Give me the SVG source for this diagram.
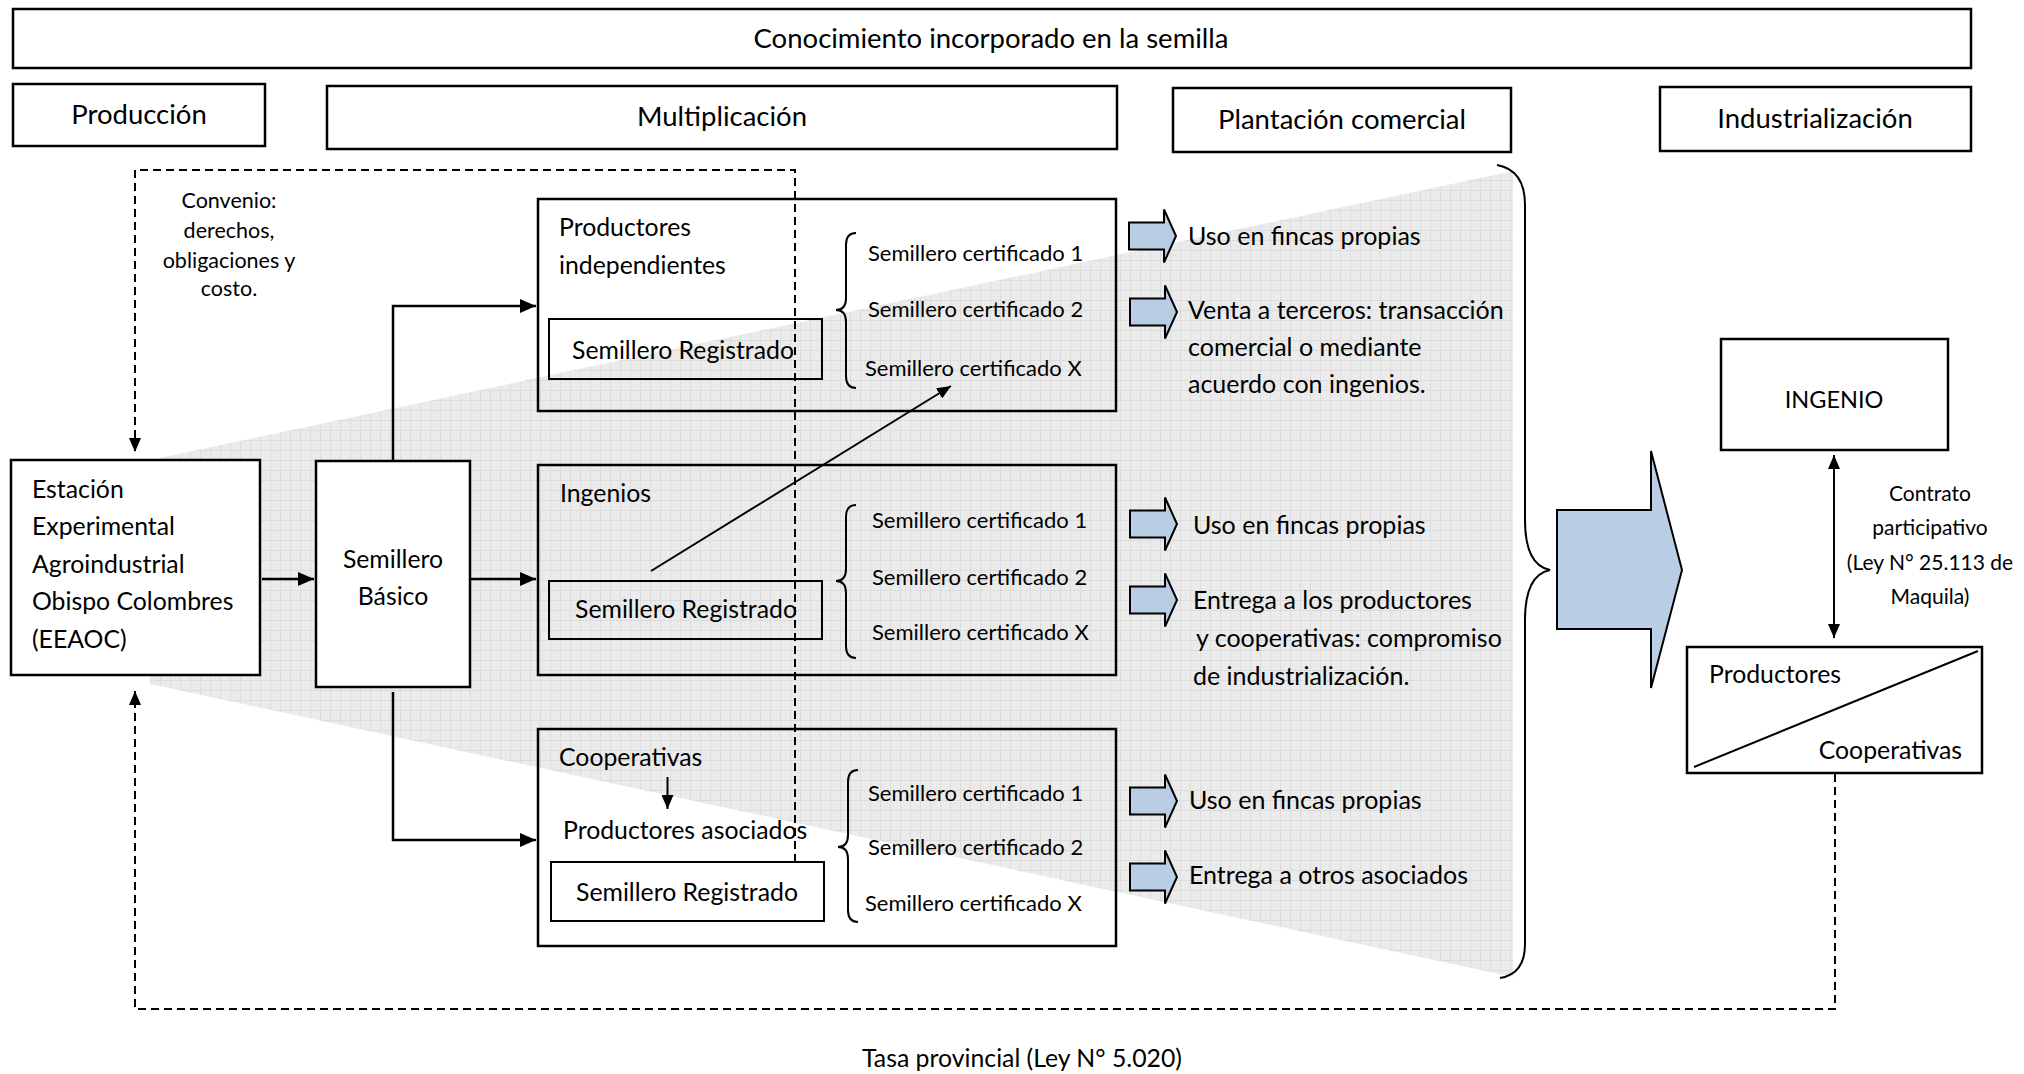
<svg xmlns="http://www.w3.org/2000/svg" width="2024" height="1074" viewBox="0 0 2024 1074">
  <style>
    text { font-family: Lato, "Open Sans", "Liberation Sans", sans-serif; fill: #000; }
    .hdr { font-size: 27.5px; text-anchor: middle; }
    .body { font-size: 24.8px; }
    .use { font-size: 25px; }
    .caps { font-size: 23.5px; }
    .mid { text-anchor: middle; }
    .end { text-anchor: end; }
    .cert { font-size: 22px; }
    .note { font-size: 21.5px; text-anchor: middle; }
    .law { font-size: 21px; text-anchor: middle; }
    .box { fill: none; stroke: #000; stroke-width: 2.5; }
    .wbox { fill: #fff; stroke: #000; stroke-width: 2.5; }
    .ibox { fill: none; stroke: #000; stroke-width: 2; }
    .line { fill: none; stroke: #000; stroke-width: 2.5; }
    .thin { fill: none; stroke: #000; stroke-width: 2; }
    .dash { fill: none; stroke: #000; stroke-width: 2; stroke-dasharray: 8 5; }
    .brace { fill: none; stroke: #000; stroke-width: 2; }
    .blue { fill: #b9cde5; stroke: #000; stroke-width: 2; stroke-linejoin: miter; }
  </style>
  <defs>
    <pattern id="grid" width="10" height="10" patternUnits="userSpaceOnUse">
      <rect width="10" height="10" fill="#ebebeb"/>
      <path d="M0 0.5H10M0.5 0V10" stroke="#dcdcdc" stroke-width="1"/>
    </pattern>
    <marker id="arr" markerUnits="userSpaceOnUse" markerWidth="16" markerHeight="14" refX="16" refY="7" orient="auto">
      <path d="M0 0L16 7L0 14z" fill="#000"/>
    </marker>
    <marker id="arrS" markerUnits="userSpaceOnUse" markerWidth="14" markerHeight="12" refX="14" refY="6" orient="auto-start-reverse">
      <path d="M0 0L14 6L0 12z" fill="#000"/>
    </marker>
    <path id="blockArrow" d="M0 -13.5H35V-26.5L47 0L35 26.5V13.5H0z"/>
  </defs>

  <rect width="2024" height="1074" fill="#fff"/>

  <!-- shaded funnel behind the multiplication stage -->
  <polygon id="funnel" points="150,460 1513,171 1513,977 150,684" fill="url(#grid)"/>

  <!-- stage headers -->
  <g id="header-conocimiento">
    <rect class="box" x="13" y="9" width="1958" height="59"/>
    <text class="hdr" x="991" y="48">Conocimiento incorporado en la semilla</text>
  </g>
  <g id="header-produccion">
    <rect class="box" x="13" y="84" width="252" height="62"/>
    <text class="hdr" x="139" y="124">Producción</text>
  </g>
  <g id="header-multiplicacion">
    <rect class="box" x="327" y="86" width="790" height="63"/>
    <text class="hdr" x="722" y="126">Multiplicación</text>
  </g>
  <g id="header-plantacion">
    <rect class="box" x="1173" y="88" width="338" height="64"/>
    <text class="hdr" x="1342" y="129">Plantación comercial</text>
  </g>
  <g id="header-industrializacion">
    <rect class="box" x="1660" y="87" width="311" height="64"/>
    <text class="hdr" x="1815" y="128">Industrialización</text>
  </g>

  <!-- connectors -->
  <g id="connectors">
    <!-- convenio loop -->
    <path class="dash" d="M795 862V170H135V452" marker-end="url(#arrS)"/>
    <!-- tasa provincial loop -->
    <path class="dash" d="M1835 774V1009H135V691" marker-end="url(#arrS)"/>
    <!-- EEAOC to Semillero Basico -->
    <path class="line" d="M262 579H314" marker-end="url(#arr)"/>
    <!-- Semillero Basico to the three multipliers -->
    <path class="line" d="M393 461V306H536" marker-end="url(#arr)"/>
    <path class="line" d="M470 579H536" marker-end="url(#arr)"/>
    <path class="line" d="M393 692V840H536" marker-end="url(#arr)"/>
    <!-- ingenios supply certified seed to independent producers -->
    <path class="thin" d="M651 571L951 386" marker-end="url(#arrS)"/>
    <!-- cooperativas to productores asociados -->
    <path class="thin" d="M667.5 777V809" marker-end="url(#arrS)"/>
    <!-- contrato participativo -->
    <path class="thin" d="M1834 455V638" marker-start="url(#arrS)" marker-end="url(#arrS)"/>
    <!-- big brace gathering the plantation uses -->
    <path class="brace" d="M1497 165Q1525 170 1525 205V520Q1525 565 1550 570Q1525 575 1525 620V944Q1525 974 1500 978"/>
  </g>

  <!-- production -->
  <g id="node-eeaoc">
    <rect class="wbox" x="11" y="460" width="249" height="215"/>
    <text class="body" x="32" y="498">Estación</text>
    <text class="body" x="32" y="535">Experimental</text>
    <text class="body" x="32" y="573">Agroindustrial</text>
    <text class="body" x="32" y="610">Obispo Colombres</text>
    <text class="body" x="32" y="648">(EEAOC)</text>
  </g>
  <g id="label-convenio">
    <text class="note" x="229" y="208">Convenio:</text>
    <text class="note" x="229" y="238">derechos,</text>
    <text class="note" x="229" y="268">obligaciones y</text>
    <text class="note" x="229" y="296">costo.</text>
  </g>
  <g id="node-semillero-basico">
    <rect class="wbox" x="316" y="461" width="154" height="226"/>
    <text class="body mid" x="393" y="568">Semillero</text>
    <text class="body mid" x="393" y="605">Básico</text>
  </g>

  <!-- multiplication: independent producers -->
  <g id="node-productores-independientes">
    <rect class="box" x="538" y="199" width="578" height="212"/>
    <text class="body" x="559" y="236">Productores</text>
    <text class="body" x="559" y="274">independientes</text>
    <rect class="ibox" x="549" y="319" width="273" height="60"/>
    <text class="body mid" x="683" y="359">Semillero Registrado</text>
    <path class="brace" d="M856 233Q846 233 846 245V298Q846 310 836 310Q846 310 846 322V376Q846 388 856 388"/>
    <text class="cert" x="868" y="261">Semillero certificado 1</text>
    <text class="cert" x="868" y="317">Semillero certificado 2</text>
    <text class="cert" x="865" y="376">Semillero certificado X</text>
  </g>

  <!-- multiplication: sugar mills -->
  <g id="node-ingenios">
    <rect class="box" x="538" y="465" width="578" height="210"/>
    <text class="body" x="560" y="502">Ingenios</text>
    <rect class="ibox" x="549" y="581" width="273" height="58"/>
    <text class="body mid" x="686" y="618">Semillero Registrado</text>
    <path class="brace" d="M856 505Q846 505 846 517V569Q846 581 836 581Q846 581 846 593V646Q846 658 856 658"/>
    <text class="cert" x="872" y="528">Semillero certificado 1</text>
    <text class="cert" x="872" y="585">Semillero certificado 2</text>
    <text class="cert" x="872" y="640">Semillero certificado X</text>
  </g>

  <!-- multiplication: cooperatives -->
  <g id="node-cooperativas">
    <rect class="box" x="538" y="729" width="578" height="217"/>
    <text class="body" x="559" y="766">Cooperativas</text>
    <text class="body" x="563" y="839">Productores asociados</text>
    <rect class="ibox" x="551" y="862" width="273" height="59"/>
    <text class="body mid" x="687" y="901">Semillero Registrado</text>
    <path class="brace" d="M858 770Q848 770 848 782V835Q848 847 838 847Q848 847 848 859V910Q848 922 858 922"/>
    <text class="cert" x="868" y="801">Semillero certificado 1</text>
    <text class="cert" x="868" y="855">Semillero certificado 2</text>
    <text class="cert" x="865" y="911">Semillero certificado X</text>
  </g>

  <!-- commercial plantation uses -->
  <g id="uses-productores">
    <use href="#blockArrow" class="blue" x="1129" y="236"/>
    <text class="use" x="1188" y="245">Uso en fincas propias</text>
    <use href="#blockArrow" class="blue" x="1130" y="312"/>
    <text class="use" x="1188" y="319">Venta a terceros: transacción</text>
    <text class="use" x="1188" y="356">comercial o mediante</text>
    <text class="use" x="1188" y="393">acuerdo con ingenios.</text>
  </g>
  <g id="uses-ingenios">
    <use href="#blockArrow" class="blue" x="1130" y="524"/>
    <text class="use" x="1193" y="534">Uso en fincas propias</text>
    <use href="#blockArrow" class="blue" x="1130" y="600"/>
    <text class="use" x="1193" y="609">Entrega a los productores</text>
    <text class="use" x="1196" y="647">y cooperativas: compromiso</text>
    <text class="use" x="1193" y="685">de industrialización.</text>
  </g>
  <g id="uses-cooperativas">
    <use href="#blockArrow" class="blue" x="1130" y="801"/>
    <text class="use" x="1189" y="809">Uso en fincas propias</text>
    <use href="#blockArrow" class="blue" x="1130" y="877"/>
    <text class="use" x="1189" y="884">Entrega a otros asociados</text>
  </g>

  <!-- flow into industrialization -->
  <g id="big-arrow">
    <polygon class="blue" points="1557,510 1651,510 1651,451 1682,570 1651,688 1651,629 1557,629"/>
  </g>

  <!-- industrialization -->
  <g id="node-ingenio">
    <rect class="box" x="1721" y="339" width="227" height="111"/>
    <text class="caps mid" x="1834" y="408">INGENIO</text>
  </g>
  <g id="label-contrato">
    <text class="law" x="1930" y="501">Contrato</text>
    <text class="law" x="1930" y="535">participativo</text>
    <text class="law" x="1930" y="570">(Ley N° 25.113 de</text>
    <text class="law" x="1930" y="604">Maquila)</text>
  </g>
  <g id="node-productores-cooperativas">
    <rect class="box" x="1687" y="647" width="295" height="126"/>
    <path class="thin" d="M1694 767L1978 651"/>
    <text class="body" x="1709" y="683">Productores</text>
    <text class="body end" x="1962" y="759">Cooperativas</text>
  </g>

  <g id="label-tasa">
    <text class="body mid" x="1022" y="1067">Tasa provincial (Ley N° 5.020)</text>
  </g>
</svg>
